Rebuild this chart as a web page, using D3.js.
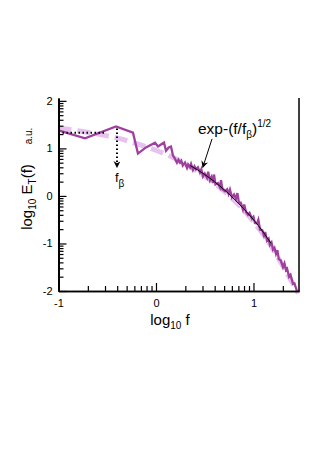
<!DOCTYPE html>
<html>
<head>
<meta charset="utf-8">
<script src="https://cdn.jsdelivr.net/npm/d3@7"></script>
<style>
  body { margin: 0; background: #fff; }
  svg { display: block; font-family: "Liberation Sans", Arial, sans-serif; }
</style>
</head>
<body>
<svg id="chart" width="316" height="452"></svg>
<script>
// measured spectrum, log10 f vs log10 E_T(f)
var specX = [-1.0, -0.728, -0.41, -0.236, -0.185, -0.103, -0.01, 0.021, 0.051, 0.082,
  0.103, 0.13, 0.154, 0.174, 0.19, 0.215, 0.23, 0.246, 0.26, 0.275,
  0.297, 0.318, 0.33, 0.349, 0.36, 0.379, 0.395, 0.41, 0.43, 0.451,
  0.465, 0.482, 0.50, 0.523, 0.535, 0.554, 0.57, 0.585, 0.595, 0.61,
  0.635, 0.656, 0.667, 0.68, 0.708, 0.73, 0.745, 0.759, 0.779, 0.80,
  0.82, 0.835, 0.851, 0.87, 0.892, 0.905, 0.923, 0.944, 0.96, 0.985,
  1.0, 1.015, 1.036, 1.05, 1.067, 1.09, 1.108, 1.12, 1.138, 1.155,
  1.169, 1.185, 1.2, 1.215, 1.231, 1.245, 1.26, 1.28, 1.303, 1.318,
  1.333, 1.345, 1.365, 1.38, 1.405, 1.42, 1.446];
var specY = [1.38, 1.21, 1.46, 1.33, 0.89, 1.02, 1.12, 1.04, 1.08, 1.12,
  0.95, 1.02, 1.04, 0.85, 0.80, 0.70, 0.76, 0.70, 0.74, 0.64,
  0.70, 0.59, 0.66, 0.60, 0.67, 0.55, 0.62, 0.56, 0.60, 0.49,
  0.56, 0.41, 0.47, 0.38, 0.51, 0.33, 0.40, 0.27, 0.45, 0.24,
  0.27, 0.18, 0.33, 0.14, 0.10, 0.14, 0.04, 0.13, -0.03, 0.03,
  -0.06, 0.06, -0.14, -0.14, -0.29, -0.18, -0.34, -0.40, -0.36, -0.48,
  -0.44, -0.57, -0.58, -0.50, -0.71, -0.72, -0.84, -0.76, -0.94, -0.90,
  -1.03, -0.98, -1.13, -1.09, -1.22, -1.14, -1.33, -1.36, -1.50, -1.42,
  -1.56, -1.53, -1.70, -1.66, -1.85, -1.84, -2.0];

// stretched exponential, light dashed
var fitX = [-1.0, -0.8, -0.6, -0.4, -0.2, 0.0, 0.2, 0.4, 0.6, 0.8, 0.9, 1.0, 1.1, 1.2, 1.3, 1.4, 1.46];
var fitY = [1.43, 1.37, 1.30, 1.22, 1.10, 0.96, 0.78, 0.55, 0.27, -0.09, -0.30, -0.54, -0.81, -1.12, -1.47, -1.83, -2.05];

// thin black fit segment
var blackX = [0.35, 0.5, 0.6, 0.7, 0.8, 0.9, 1.0, 1.1, 1.18];
var blackY = [0.64, 0.45, 0.30, 0.13, -0.06, -0.27, -0.50, -0.76, -1.0];

// plateau level (dotted)
var plateauX = [-1.0, -0.52];
var plateauY = [1.33, 1.33];

var fBeta = -0.4;
var xTicks = [-1, 0, 1];
var yTicks = [-2, -1, 0, 1, 2];
var xTickLabels = ["-1", "0", "1"];
var yTickLabels = ["-2", "-1", "0", "1", "2"];

var svg = d3.select("#chart");

var x = d3.scaleLinear().domain([-1, 1.467]).range([58.5, 299]);
var y = d3.scaleLinear().domain([-2, 2.06]).range([291, 98]);

// minor log ticks in each decade
function minorTicks(lo, hi) {
  var out = [];
  for (var d = Math.floor(lo); d <= hi; d++) {
    for (var k = 2; k <= 9; k++) {
      var v = d + Math.log10(k);
      if (v > lo && v < hi) out.push(v);
    }
  }
  return out;
}

var line = d3.line()
  .x(function(d){ return x(d[0]); })
  .y(function(d){ return y(d[1]); });

function pairs(a, b) { return a.map(function(v, i){ return [v, b[i]]; }); }

// curves
svg.append("path")
  .datum(pairs(fitX, fitY))
  .attr("d", line.curve(d3.curveMonotoneX))
  .attr("fill", "none")
  .attr("stroke", "#e6c3ee")
  .attr("stroke-width", 5)
  .attr("stroke-dasharray", "13,6");

line.curve(d3.curveLinear);

svg.append("path")
  .datum(pairs(specX, specY))
  .attr("d", line)
  .attr("fill", "none")
  .attr("stroke", "#a0409e")
  .attr("stroke-width", 2.3)
  .attr("stroke-linejoin", "miter");

svg.append("path")
  .datum(pairs(blackX, blackY))
  .attr("d", line.curve(d3.curveMonotoneX))
  .attr("fill", "none")
  .attr("stroke", "#000")
  .attr("stroke-width", 1);

line.curve(d3.curveLinear);

svg.append("path")
  .datum(pairs(plateauX, plateauY))
  .attr("d", line)
  .attr("fill", "none")
  .attr("stroke", "#000")
  .attr("stroke-width", 2)
  .attr("stroke-dasharray", "1.5,2.5");

// axes
var xAxis = d3.axisBottom(x).tickValues(xTicks).tickSize(-8).tickSizeOuter(0).tickPadding(8)
  .tickFormat(function(d, i){ return xTickLabels[i]; });
var xMinor = d3.axisBottom(x).tickValues(minorTicks(-1, 1.467)).tickSize(-5).tickSizeOuter(0).tickFormat("");
var yAxis = d3.axisLeft(y).tickValues(yTicks).tickSize(-8).tickSizeOuter(0).tickPadding(6)
  .tickFormat(function(d, i){ return yTickLabels[i]; });
var yMinor = d3.axisLeft(y).tickValues(minorTicks(-2, 2.06)).tickSize(-5).tickSizeOuter(0).tickFormat("");

svg.append("g").attr("transform", "translate(0,291)").call(xAxis);
svg.append("g").attr("transform", "translate(0,291)").call(xMinor);
var gy = svg.append("g").attr("transform", "translate(58.5,0)").call(yAxis);
svg.append("g").attr("transform", "translate(58.5,0)").call(yMinor);

svg.selectAll(".tick line").attr("stroke", "#000").attr("stroke-width", 1.2);
svg.selectAll(".domain").attr("stroke", "#000").attr("stroke-width", 1.5);
gy.select(".domain").attr("stroke-width", 2);
svg.selectAll(".tick text").attr("font-size", 11).attr("fill", "#000")
  .attr("font-family", "'Liberation Sans', Arial, sans-serif");

// right frame line
svg.append("line")
  .attr("x1", x(1.467)).attr("x2", x(1.467))
  .attr("y1", y(2.06)).attr("y2", y(-2))
  .attr("stroke", "#000").attr("stroke-width", 1.5);

// axis titles
var xt = svg.append("text").attr("x", 170).attr("y", 325)
  .attr("text-anchor", "middle").attr("font-size", 15);
xt.append("tspan").text("log");
xt.append("tspan").attr("font-size", 10).attr("dy", 4).text("10");
xt.append("tspan").attr("dy", -4).text(" f");

var yt = svg.append("text").attr("transform", "translate(32,197) rotate(-90)")
  .attr("text-anchor", "middle").attr("font-size", 15);
yt.append("tspan").text("log");
yt.append("tspan").attr("font-size", 10).attr("dy", 4).text("10");
yt.append("tspan").attr("dy", -4).text(" E");
yt.append("tspan").attr("font-size", 10).attr("dy", 4).text("T");
yt.append("tspan").attr("dy", -4).text("(f)");

svg.append("text").attr("transform", "translate(32,136) rotate(-90)")
  .attr("text-anchor", "middle").attr("font-size", 10).text("a.u.");

// arrow heads
svg.append("defs").append("marker")
  .attr("id", "head").attr("viewBox", "0 0 10 10")
  .attr("refX", 9).attr("refY", 5)
  .attr("markerUnits", "userSpaceOnUse")
  .attr("markerWidth", 7).attr("markerHeight", 7)
  .attr("orient", "auto")
  .append("path").attr("d", "M0,0 L10,5 L0,10 L3,5 Z").attr("fill", "#000");

// f_beta marker
svg.append("line")
  .attr("x1", x(fBeta)).attr("x2", x(fBeta))
  .attr("y1", y(1.42)).attr("y2", y(0.6))
  .attr("stroke", "#000").attr("stroke-width", 2)
  .attr("stroke-dasharray", "1.5,2.5")
  .attr("marker-end", "url(#head)");

var fb = svg.append("text").attr("x", x(fBeta) - 2).attr("y", 182).attr("font-size", 13);
fb.append("tspan").text("f");
fb.append("tspan").attr("font-size", 10).attr("dy", 5).text("β");

// annotation for the fit
svg.append("line")
  .attr("x1", x(0.575)).attr("y1", y(1.2))
  .attr("x2", x(0.48)).attr("y2", y(0.6))
  .attr("stroke", "#000").attr("stroke-width", 1)
  .attr("marker-end", "url(#head)");

var an = svg.append("text").attr("x", 198).attr("y", 134).attr("font-size", 15.5);
an.append("tspan").text("exp-(f/f");
an.append("tspan").attr("font-size", 10).attr("dy", 4).text("β");
an.append("tspan").attr("dy", -4).text(")");
an.append("tspan").attr("font-size", 10).attr("dy", -7).text("1/2");
</script>
</body>
</html>
